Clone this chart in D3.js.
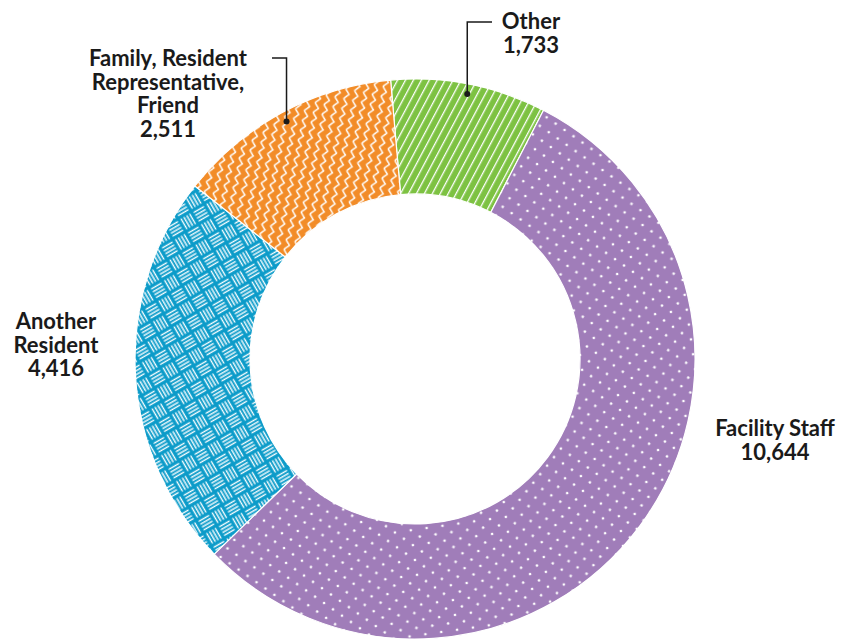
<!DOCTYPE html>
<html>
<head>
<meta charset="utf-8">
<script src="https://cdn.jsdelivr.net/npm/d3@7"></script>
<style>
  html, body { margin: 0; padding: 0; background: #ffffff; }
  svg text { font-family: Lato, "Open Sans", sans-serif; font-weight: 700; fill: #1a1a1a; }
</style>
</head>
<body>
<svg id="chart" width="843" height="639"></svg>
<script>
// ---- data ----
const categories = ["Other", "Facility Staff", "Another Resident", "Family, Resident Representative, Friend"];
const values = [1733, 10644, 4416, 2511];
const labelLines = [["Other"], ["Facility Staff"], ["Another", "Resident"], ["Family, Resident", "Representative,", "Friend"]];
const colors = ["#7dc242", "#a07db9", "#0b9bc9", "#f28c28"];
const patternIds = ["pat-stripes", "pat-dots", "pat-weave", "pat-zigzag"];

// ---- layout ----
const W = 843, H = 639;
const cx = 415, cy = 359, outerR = 280, innerR = 165;
const labelPos = [
  { x: 531, y: 29, leader: { y: 22, x2: 492 } },
  { x: 775, y: 436 },
  { x: 56, y: 329 },
  { x: 168, y: 66, leader: { y: 58, x2: 272 } }
];
const lineH = 23.5;

const svg = d3.select("#chart");
const defs = svg.append("defs");

// stripes (Other)
const sw = 7;
const p1 = defs.append("pattern").attr("id", "pat-stripes").attr("patternUnits", "userSpaceOnUse")
  .attr("width", sw).attr("height", sw).attr("patternTransform", "rotate(28)");
p1.append("rect").attr("width", sw).attr("height", sw).attr("fill", colors[0]);
p1.append("line").attr("x1", 0).attr("y1", 0).attr("x2", 0).attr("y2", sw)
  .attr("stroke", "#fff").attr("stroke-width", 2.6);

// dots (Facility Staff)
const p2 = defs.append("pattern").attr("id", "pat-dots").attr("patternUnits", "userSpaceOnUse")
  .attr("width", 16).attr("height", 15).attr("patternTransform", "rotate(-8)");
p2.append("rect").attr("width", 16).attr("height", 15).attr("fill", colors[1]);
[[4, 4], [12, 11.5]].forEach(([x, y]) =>
  p2.append("circle").attr("cx", x).attr("cy", y).attr("r", 1.35).attr("fill", "#fff"));

// basketweave (Another Resident)
const bs = 15;
const p3 = defs.append("pattern").attr("id", "pat-weave").attr("patternUnits", "userSpaceOnUse")
  .attr("width", bs * 2).attr("height", bs * 2).attr("patternTransform", "rotate(-30)");
p3.append("rect").attr("width", bs * 2).attr("height", bs * 2).attr("fill", colors[2]);
[[0, 0, "h"], [bs, 0, "v"], [0, bs, "v"], [bs, bs, "h"]].forEach(([ox, oy, dir]) => {
  for (let i = 0; i < 4; i++) {
    const o = 2.5 + i * 3.3;
    if (dir === "h") {
      p3.append("line").attr("x1", ox + 1.5).attr("x2", ox + bs - 1.5).attr("y1", oy + o).attr("y2", oy + o)
        .attr("stroke", "#fff").attr("stroke-width", 1.4);
    } else {
      p3.append("line").attr("y1", oy + 1.5).attr("y2", oy + bs - 1.5).attr("x1", ox + o).attr("x2", ox + o)
        .attr("stroke", "#fff").attr("stroke-width", 1.4);
    }
  }
});

// zigzag (Family)
const p4 = defs.append("pattern").attr("id", "pat-zigzag").attr("patternUnits", "userSpaceOnUse")
  .attr("width", 9).attr("height", 10).attr("patternTransform", "rotate(12)");
p4.append("rect").attr("width", 9).attr("height", 10).attr("fill", colors[3]);
p4.append("path").attr("d", "M2,0 L6.5,5 L2,10").attr("fill", "none")
  .attr("stroke", "#fff").attr("stroke-width", 1.5);

// ---- pie ----
const pie = d3.pie().sort(null).value(d => d).startAngle(-5 * Math.PI / 180).endAngle(355 * Math.PI / 180);
const arcs = pie(values);
const arc = d3.arc().innerRadius(innerR).outerRadius(outerR);

const g = svg.append("g").attr("transform", `translate(${cx},${cy})`);
g.selectAll("path.slice").data(arcs).join("path")
  .attr("class", "slice")
  .attr("d", arc)
  .attr("fill", (d, i) => `url(#${patternIds[i]})`)
  .attr("stroke", "#fff").attr("stroke-width", 1.2);

// ---- labels ----
const fmt = d3.format(",");
categories.forEach((c, i) => {
  const lp = labelPos[i];
  const t = svg.append("text").attr("text-anchor", "middle").attr("font-size", 22);
  const lines = labelLines[i].concat([fmt(values[i])]);
  lines.forEach((ln, j) => {
    t.append("tspan").attr("x", lp.x).attr("y", lp.y + j * lineH).text(ln);
  });
  if (lp.leader) {
    const a = (arcs[i].startAngle + arcs[i].endAngle) / 2;
    const r = 270;
    const px = cx + r * Math.sin(a), py = cy - r * Math.cos(a);
    svg.append("path")
      .attr("d", `M${px},${py} V${lp.leader.y} H${lp.leader.x2}`)
      .attr("fill", "none").attr("stroke", "#1a1a1a").attr("stroke-width", 1.5);
    svg.append("circle").attr("cx", px).attr("cy", py).attr("r", 3).attr("fill", "#1a1a1a");
  }
});
</script>
</body>
</html>
